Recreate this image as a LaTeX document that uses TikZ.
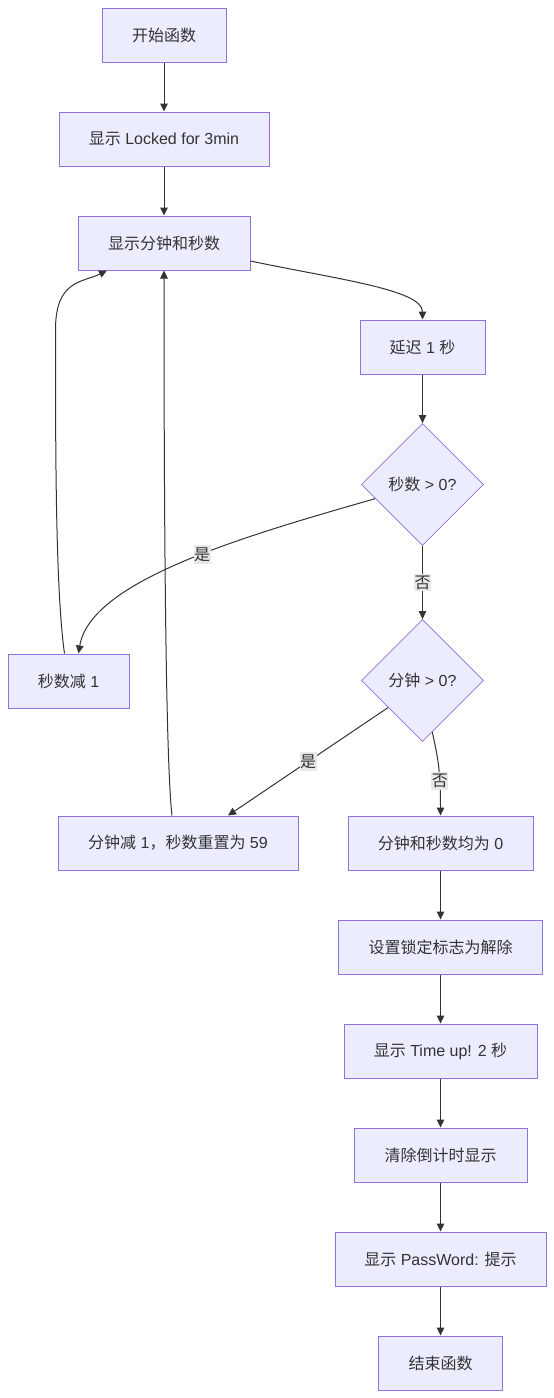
\documentclass[tikz,border=0pt]{standalone}
\usepackage{fontspec}
\setmainfont{Liberation Sans}
\newfontfamily\cjkfont{Noto Sans CJK SC}
\newcommand\zhtxt[1]{{\cjkfont #1}}
\usetikzlibrary{shapes.geometric,arrows.meta,calc}
\definecolor{nodefill}{HTML}{ECECFF}
\definecolor{nodedraw}{HTML}{9370DB}
\definecolor{edgecol}{HTML}{333333}
\definecolor{lblbg}{HTML}{E8E8E8}
\definecolor{textcol}{HTML}{333333}
\begin{document}
\begin{tikzpicture}[x=1pt,y=-1pt,
  box/.style={draw=nodedraw,fill=nodefill,line width=1pt,inner sep=0pt,text=textcol,
    font=\fontsize{16}{19}\selectfont,minimum height=54pt},
  dia/.style={diamond,shape aspect=1,draw=nodedraw,fill=nodefill,line width=0.8pt,inner sep=0pt,
    text=textcol,font=\fontsize{16}{19}\selectfont,minimum width=122pt,minimum height=122pt},
  edge/.style={draw=edgecol,line width=1pt,-{Triangle[length=8pt,width=7.5pt]}},
  lbl/.style={fill=lblbg,inner xsep=0.5pt,inner ysep=2pt,text=textcol,font=\fontsize{16}{19}\selectfont}]
\useasboundingbox (0,0) rectangle (554,1398);

\node[box,minimum width=124pt] (A) at (164,35) {\zhtxt{开始函数}};
\node[box,minimum width=210pt] (B) at (164,139) {\zhtxt{显示} Locked for 3min};
\node[box,minimum width=172pt] (C) at (164,243) {\zhtxt{显示分钟和秒数}};
\node[box,minimum width=125pt] (D) at (422.5,347) {\zhtxt{延迟} 1 \zhtxt{秒}};
\node[dia] (E) at (422.5,484.5) {\zhtxt{秒数} > 0?};
\node[box,minimum width=121pt] (F) at (68.5,681) {\zhtxt{秒数减} 1};
\node[dia] (G) at (422.5,680.5) {\zhtxt{分钟} > 0?};
\node[box,minimum width=240pt] (H) at (178,843) {\zhtxt{分钟减} 1\zhtxt{，秒数重置为} 59};
\node[box,minimum width=185pt] (I) at (440.5,843) {\zhtxt{分钟和秒数均为} 0};
\node[box,minimum width=204pt] (J) at (440.5,947) {\zhtxt{设置锁定标志为解除}};
\node[box,minimum width=193pt] (K) at (440.5,1051) {\zhtxt{显示} Time up! 2 \zhtxt{秒}};
\node[box,minimum width=173pt] (L) at (440.5,1155) {\zhtxt{清除倒计时显示}};
\node[box,minimum width=211pt] (M) at (440.5,1259) {\zhtxt{显示} PassWord: \zhtxt{提示}};
\node[box,minimum width=124pt] (N) at (440.5,1363) {\zhtxt{结束函数}};

\draw[edge] (A) -- (B);
\draw[edge] (B) -- (C);
\draw[edge] ($(C.east)+(0,18)$) .. controls +(85,18) and +(0,-30) .. (D.north);
\draw[edge] (D) -- (E);
\draw[edge] ($(E.west)!0.23!(E.south)$) .. controls +(-125,36) and +(12,-74) .. ($(F.north)+(10,0)$)
  node[lbl,pos=0.45] {\zhtxt{是}};
\draw[edge] (E) -- node[lbl] {\zhtxt{否}} (G);
\draw[edge] ($(F.north)+(-4,0)$) .. controls +(-9,-64) and +(0,120) .. ($(F.north)+(-13,-324)$)
  .. controls +(0,-50) and +(-24,12) .. ($(C.south)+(-57,0)$);
\draw[edge] ($(G.west)!0.44!(G.south)$) -- node[lbl] {\zhtxt{是}} ($(H.north)+(50,0)$);
\draw[edge] ($(G.south)!0.16!(G.east)$) .. controls +(6,28) and +(0,-45) .. (I.north)
  node[lbl,pos=0.68] {\zhtxt{否}};
\draw[edge] ($(H.north)+(-6,0)$) .. controls +(-7,-60) and +(0,200) .. (C.south);
\draw[edge] (I) -- (J);
\draw[edge] (J) -- (K);
\draw[edge] (K) -- (L);
\draw[edge] (L) -- (M);
\draw[edge] (M) -- (N);
\end{tikzpicture}
\end{document}
